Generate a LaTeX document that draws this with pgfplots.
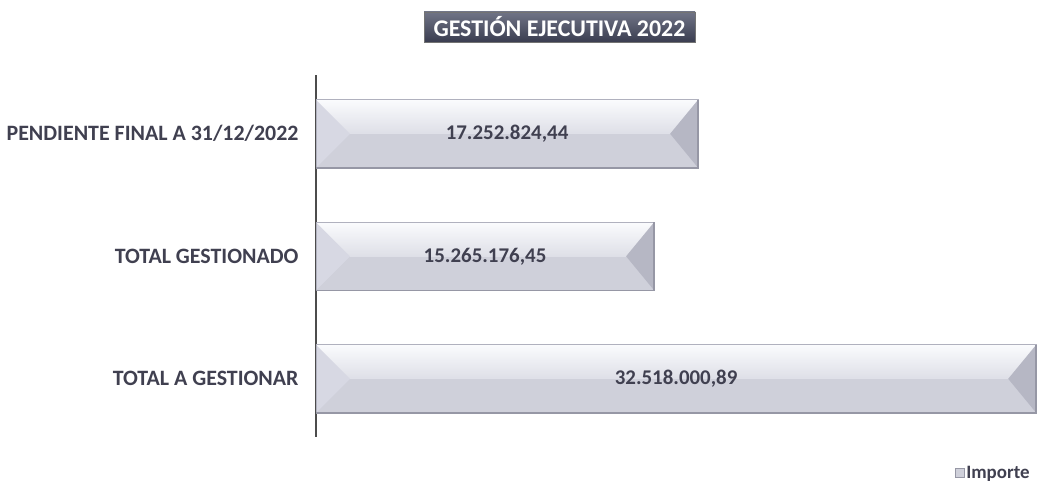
\documentclass[border=0pt]{standalone}
\usepackage{pgfplots}
\pgfplotsset{compat=1.18}
\usepackage{fontspec}
\setmainfont{Carlito}
\definecolor{txt}{RGB}{64,64,80}
\definecolor{uptop}{RGB}{250,251,253}
\definecolor{upbot}{RGB}{222,223,231}
\definecolor{lowfill}{RGB}{207,208,218}
\definecolor{lbev}{RGB}{215,216,227}
\definecolor{rbev}{RGB}{182,183,196}
\definecolor{baredge}{RGB}{176,177,190}
\definecolor{bardark}{RGB}{150,151,165}
\definecolor{ttop}{RGB}{112,116,134}
\definecolor{tbot}{RGB}{58,61,80}
\begin{document}
\begin{tikzpicture}[x=1bp,y=1bp]
\path[use as bounding box] (0,0) rectangle (1039,483);
\begin{axis}[
  at={(316bp,46bp)}, anchor=south west,
  width=722bp, height=362bp, scale only axis,
  xmin=0, xmax=32.6e6,
  ymin=-0.475, ymax=2.48,
  axis x line=none,
  axis y line*=left,
  y axis line style={draw=black!70, line width=1.2pt, -},
  ytick={0,1,2},
  yticklabels={TOTAL A GESTIONAR, TOTAL GESTIONADO, PENDIENTE FINAL A 31/12/2022},
  ytick style={draw=none},
  yticklabel style={font=\fontsize{22}{24}\selectfont\bfseries, text=txt, xshift=-14bp},
  legend style={draw=none, fill=none, at={(0.938,-0.0995)}, anchor=center,
    font=\fontsize{19}{21}\selectfont\bfseries, text=txt, inner sep=0pt},
  legend image code/.code={\fill[lowfill, draw=bardark] (0bp,-4.5bp) rectangle (9bp,4.5bp);},
  clip=false,
]
% bars (base, lower half colour)
\addplot[xbar, bar width=0.555, fill=lowfill, draw=none]
  coordinates {(32518000.89,0)};
\addlegendentry{Importe}
\addplot[xbar, bar width=0.555, fill=lowfill, draw=none, forget plot]
  coordinates {(15265176.45,1)};
\addplot[xbar, bar width=0.555, fill=lowfill, draw=none, forget plot]
  coordinates {(17252824.44,2)};
% upper halves (light gradient)
\addplot[forget plot, draw=none, top color=uptop, bottom color=upbot]
  coordinates {(0,0) (32518000.89,0) (32518000.89,0.2775) (0,0.2775)} -- cycle;
\addplot[forget plot, draw=none, top color=uptop, bottom color=upbot]
  coordinates {(0,1) (15265176.45,1) (15265176.45,1.2775) (0,1.2775)} -- cycle;
\addplot[forget plot, draw=none, top color=uptop, bottom color=upbot]
  coordinates {(0,2) (17252824.44,2) (17252824.44,2.2775) (0,2.2775)} -- cycle;
% left bevels
\addplot[forget plot, draw=none, fill=lbev]
  coordinates {(0,-0.2775) (1535000,0) (0,0.2775)} -- cycle;
\addplot[forget plot, draw=none, fill=lbev]
  coordinates {(0,0.7225) (1535000,1) (0,1.2775)} -- cycle;
\addplot[forget plot, draw=none, fill=lbev]
  coordinates {(0,1.7225) (1535000,2) (0,2.2775)} -- cycle;
% right bevels
\addplot[forget plot, draw=none, fill=rbev]
  coordinates {(32518000.89,-0.2775) (31254000,0) (32518000.89,0.2775)} -- cycle;
\addplot[forget plot, draw=none, fill=rbev]
  coordinates {(15265176.45,0.7225) (14001000,1) (15265176.45,1.2775)} -- cycle;
\addplot[forget plot, draw=none, fill=rbev]
  coordinates {(17252824.44,1.7225) (15989000,2) (17252824.44,2.2775)} -- cycle;
% outlines
\addplot[forget plot, draw=baredge, line width=0.8pt]
  coordinates {(0,-0.2775) (32518000.89,-0.2775) (32518000.89,0.2775) (0,0.2775)} -- cycle;
\addplot[forget plot, draw=baredge, line width=0.8pt]
  coordinates {(0,0.7225) (15265176.45,0.7225) (15265176.45,1.2775) (0,1.2775)} -- cycle;
\addplot[forget plot, draw=baredge, line width=0.8pt]
  coordinates {(0,1.7225) (17252824.44,1.7225) (17252824.44,2.2775) (0,2.2775)} -- cycle;
% darker bottom and right edges
\addplot[forget plot, draw=bardark, line width=1.5pt]
  coordinates {(0,-0.2775) (32518000.89,-0.2775) (32518000.89,0.2775)};
\addplot[forget plot, draw=bardark, line width=1.5pt]
  coordinates {(0,0.7225) (15265176.45,0.7225) (15265176.45,1.2775)};
\addplot[forget plot, draw=bardark, line width=1.5pt]
  coordinates {(0,1.7225) (17252824.44,1.7225) (17252824.44,2.2775)};
% value labels
\addplot[draw=none, mark=none, forget plot, point meta=explicit symbolic,
  nodes near coords, 
  every node near coord/.append style={font=\fontsize{21}{24}\selectfont\bfseries, text=txt, anchor=center}]
  coordinates {(16259000.445,0) [32.518.000,89] (7632588.225,1) [15.265.176,45] (8626412.22,2) [17.252.824,44]};
\end{axis}
\node[draw=black!55, top color=ttop, bottom color=tbot, minimum width=271bp, minimum height=30bp,
  inner sep=0pt, text=white, font=\fontsize{24}{27}\selectfont\bfseries] at (559.5,456) {GESTIÓN EJECUTIVA 2022};
\end{tikzpicture}
\end{document}
